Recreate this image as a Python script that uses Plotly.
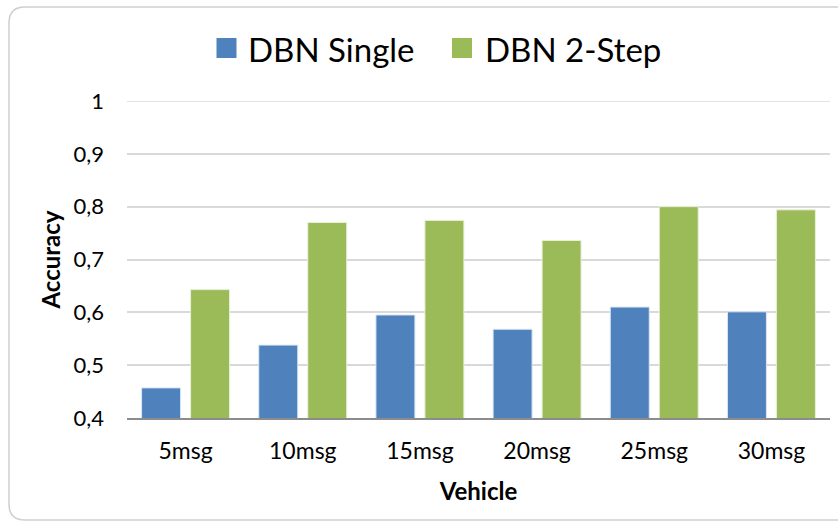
import plotly.graph_objects as go

categories = ["5msg", "10msg", "15msg", "20msg", "25msg", "30msg"]
dbn_single = [0.457, 0.538, 0.595, 0.568, 0.610, 0.601]
dbn_two_step = [0.643, 0.770, 0.774, 0.736, 0.800, 0.794]
series_names = ["DBN Single", "DBN 2-Step"]
series_colors = ["#4F81BD", "#9BBB59"]
y_tick_vals = [0.4, 0.5, 0.6, 0.7, 0.8, 0.9, 1.0]
y_tick_text = ["0,4", "0,5", "0,6", "0,7", "0,8", "0,9", "1"]

W, H = 838, 525
ML, MR, MT, MB = 127, 8, 101, 107
FONT = "Lato, 'Open Sans', sans-serif"

fig = go.Figure()
fig.add_trace(go.Bar(name=series_names[0], x=categories, y=dbn_single, showlegend=False,
                     marker=dict(color=series_colors[0], line=dict(color="#dbe6f3", width=1))))
fig.add_trace(go.Bar(name=series_names[1], x=categories, y=dbn_two_step, showlegend=False,
                     marker=dict(color=series_colors[1], line=dict(color="#e8f0d8", width=1))))

pw = W - ML - MR
ph = H - MT - MB
def px2x(p):
    return (p - ML) / pw
def py2y(p):
    return 1 - (p - MT) / ph

# rounded outer border: open on the right, running off the canvas
x0, xr, y0, y1, r = 9, W + 5, 7, 520, 16
path = (f"M {px2x(xr)},{py2y(y0)} L {px2x(x0+r)},{py2y(y0)} "
        f"Q {px2x(x0)},{py2y(y0)} {px2x(x0)},{py2y(y0+r)} "
        f"L {px2x(x0)},{py2y(y1-r)} Q {px2x(x0)},{py2y(y1)} {px2x(x0+r)},{py2y(y1)} "
        f"L {px2x(xr)},{py2y(y1)}")

shapes = [dict(type="path", path=path, xref="paper", yref="paper",
               line=dict(color="#cfcfcf", width=1.5), layer="below"),
          dict(type="line", xref="paper", yref="y", x0=0, x1=1,
               y0=y_tick_vals[-1], y1=y_tick_vals[-1],
               line=dict(color="#d9d9d9", width=1.5), layer="below")]

# manual legend (large squares like the original)
legend_sq_left = [216.5, 452]
legend_txt_left = [246, 483]
legend_cy = 48
sq = 20
annotations = []
for i in range(2):
    shapes.append(dict(type="rect", xref="paper", yref="paper",
                       x0=px2x(legend_sq_left[i]), x1=px2x(legend_sq_left[i] + sq),
                       y0=py2y(legend_cy - sq / 2), y1=py2y(legend_cy + sq / 2),
                       fillcolor=series_colors[i], line=dict(width=0)))
    annotations.append(dict(text=series_names[i], xref="paper", yref="paper",
                            x=px2x(legend_txt_left[i]), y=py2y(legend_cy + 1),
                            xanchor="left", yanchor="middle", showarrow=False,
                            font=dict(size=33, family=FONT, color="#000000")))

fig.update_layout(
    width=W, height=H,
    margin=dict(l=ML, r=MR, t=MT, b=MB),
    paper_bgcolor="white", plot_bgcolor="white",
    font=dict(family=FONT, color="#000000", size=22),
    barmode="group", bargap=0.164, bargroupgap=0.204,
    separators=", ",
    showlegend=False,
    shapes=shapes,
    annotations=annotations,
    xaxis=dict(showgrid=False, showline=True, linecolor="#8c8c8c", linewidth=1.5,
               ticks="", tickfont=dict(size=23), ticklabelstandoff=12,
               title=dict(text="<b>Vehicle</b>", font=dict(size=24), standoff=20)),
    yaxis=dict(range=[0.4, 1.0], tickvals=y_tick_vals, ticktext=y_tick_text,
               showgrid=True, gridcolor="#d9d9d9", gridwidth=1.5,
               showline=False, zeroline=False, ticks="",
               tickfont=dict(size=22), ticklabelstandoff=22,
               title=dict(text="<b>Accuracy</b>", font=dict(size=24), standoff=6)),
)

fig.write_html("out.html", config={"displayModeBar": False},
               post_script="document.body.style.margin='0';document.body.style.overflow='hidden';")
